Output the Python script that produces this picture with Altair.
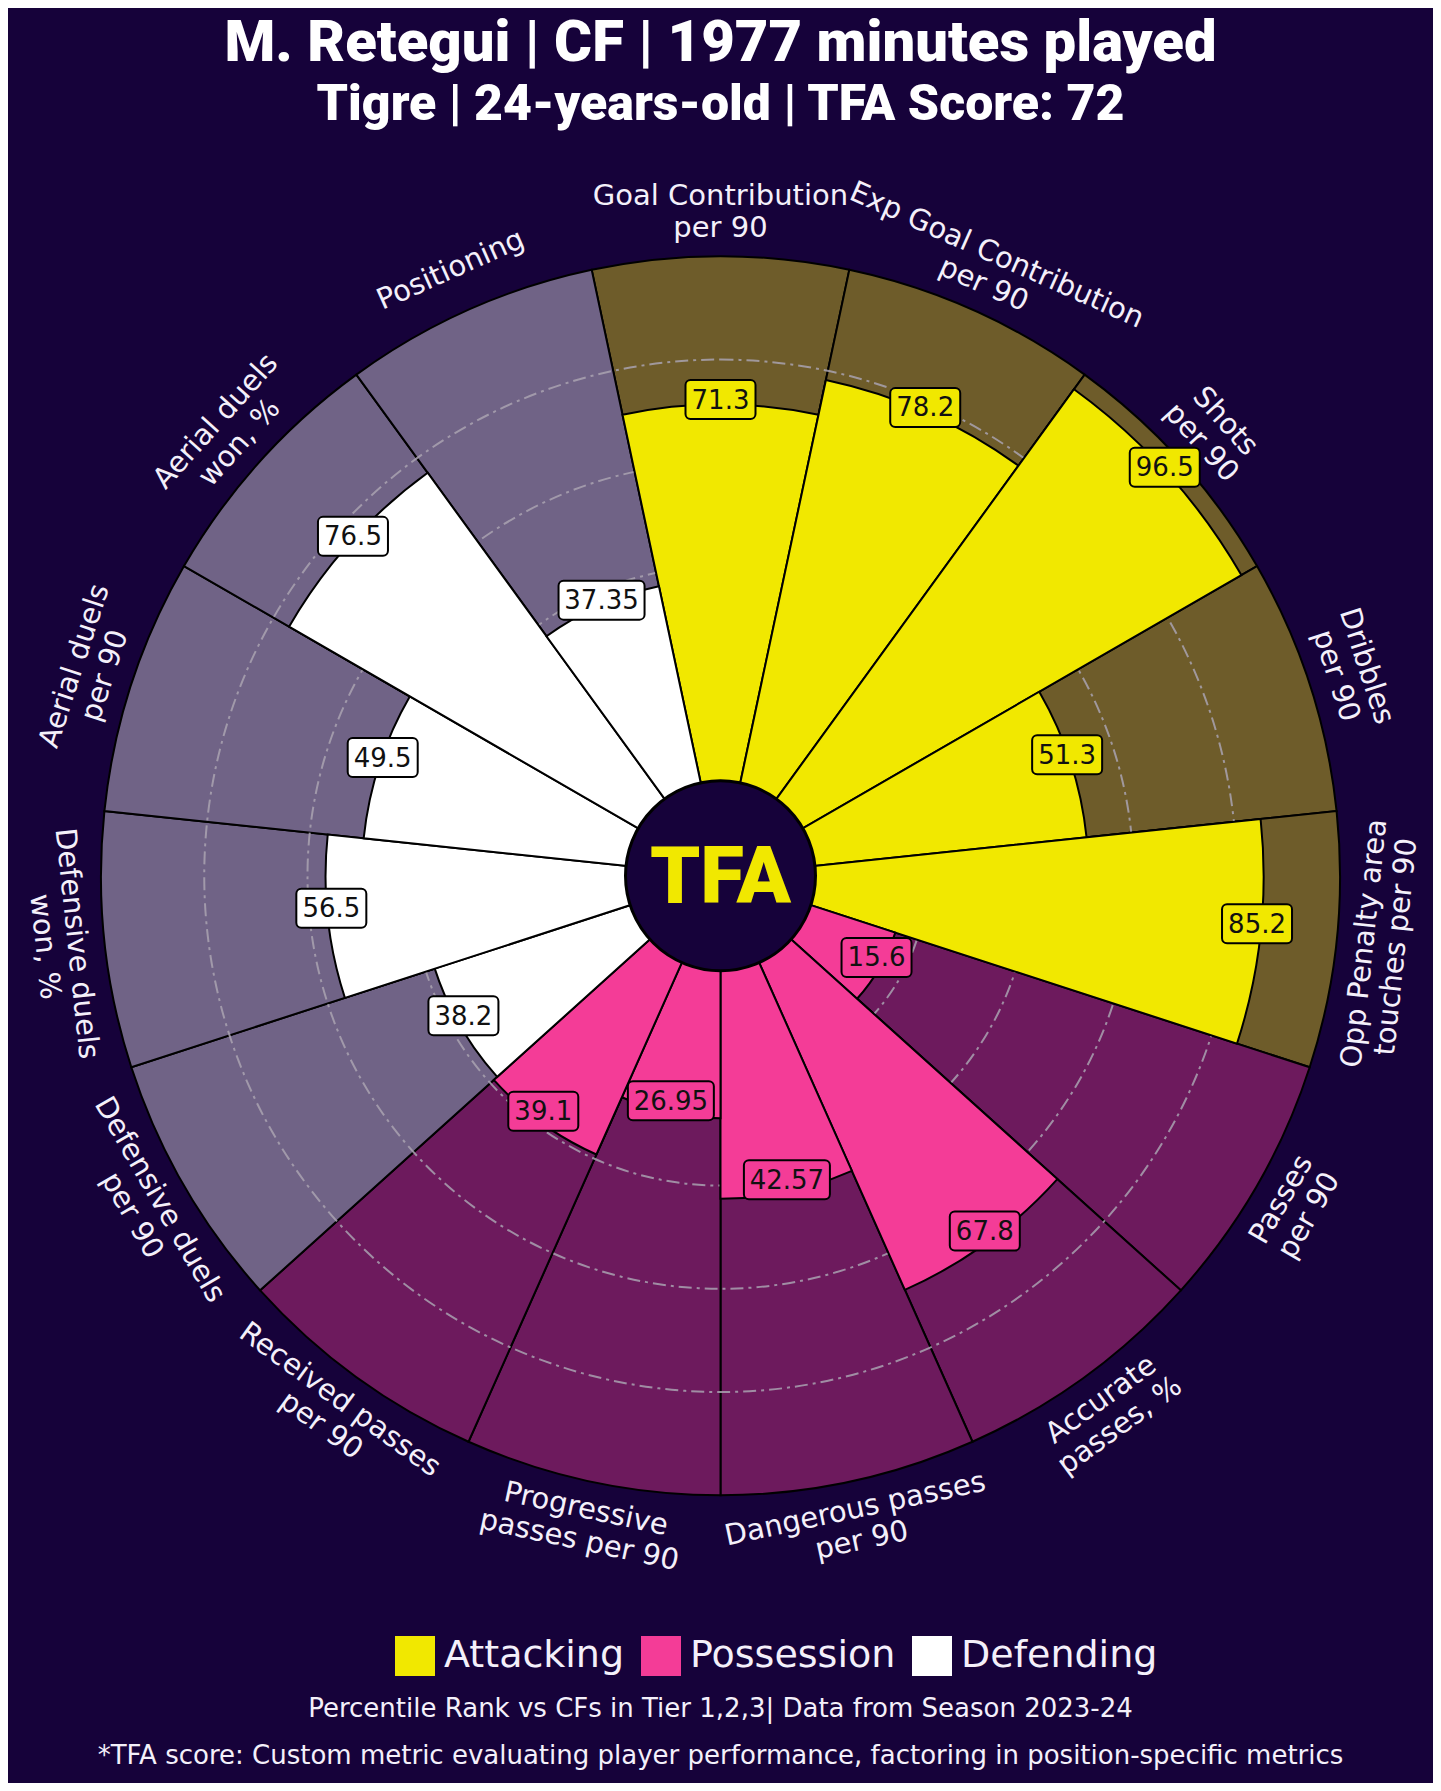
import altair as alt
import pandas as pd

# ---------------- data ----------------
metrics = [
    "Goal Contribution\nper 90",
    "Exp Goal Contribution\nper 90",
    "Shots\nper 90",
    "Dribbles\nper 90",
    "Opp Penalty area\ntouches per 90",
    "Passes\nper 90",
    "Accurate\npasses, %",
    "Dangerous passes\nper 90",
    "Progressive\npasses per 90",
    "Received passes\nper 90",
    "Defensive duels\nper 90",
    "Defensive duels\nwon, %",
    "Aerial duels\nper 90",
    "Aerial duels\nwon, %",
    "Positioning",
]
values = [71.3, 78.2, 96.5, 51.3, 85.2, 15.6, 67.8, 42.57, 26.95, 39.1,
          38.2, 56.5, 49.5, 76.5, 37.35]
value_labels = ["71.3", "78.2", "96.5", "51.3", "85.2", "15.6", "67.8", "42.57",
                "26.95", "39.1", "38.2", "56.5", "49.5", "76.5", "37.35"]
groups = ["Attacking"] * 5 + ["Possession"] * 5 + ["Defending"] * 5
group_names = ["Attacking", "Possession", "Defending"]
grid_levels = [20, 40, 60, 80]

title_text = "M. Retegui | CF | 1977 minutes played"
subtitle_text = "Tigre | 24-years-old | TFA Score: 72"
footer1_text = "Percentile Rank vs CFs in Tier 1,2,3| Data from Season 2023-24"
footer2_text = ("*TFA score: Custom metric evaluating player performance, "
                "factoring in position-specific metrics")

# ---------------- styles ----------------
BG = "#16023a"
BAR_COLS = ["#f1e800", "#f43c97", "#ffffff"]
BACK_COLS = ["#6e5c2a", "#6d1a5d", "#706386"]
GRID = "#a9a2b0"
TXT = "#f4f0fa"
FONT = "DejaVu Sans"
TFONT = "Roboto"
LINE_H = 32

W, H = 1425, 1775
CX, CY = 712.5, 867.8          # pie centre inside the plot area
R = 619.5                      # outer radius (value 100)
UNIT = R / 120.0               # px per value unit (scale domain -20..100)
N = len(metrics)
SLOT = 360.0 / N

df = pd.DataFrame({
    "idx": list(range(N)),
    "metric": metrics,
    "value": values,
    "label": value_labels,
    "group": groups,
})
grid_df = pd.DataFrame({"level": grid_levels})

xscale = alt.Scale(domain=[-CX / UNIT, (W - CX) / UNIT], nice=False, zero=False)
yscale = alt.Scale(domain=[-(H - CY) / UNIT, CY / UNIT], nice=False, zero=False)
rscale = alt.Scale(type="linear", domain=[-20, 100], range=[0, R], zero=False, nice=False)
tscale = alt.Scale(domain=[0, 360], range=[0, 6.283185307179586], zero=False, nice=False)

X0 = alt.X(datum=0, scale=xscale, axis=None)
Y0 = alt.Y(datum=0, scale=yscale, axis=None)

base = alt.Chart(df).transform_calculate(
    tc=f"datum.idx * {SLOT}",
    multi="indexof(datum.metric, '\\n') >= 0",
).transform_calculate(
    t0=f"datum.tc - {SLOT / 2}",
    t1=f"datum.tc + {SLOT / 2}",
    rot="(datum.tc > 90 && datum.tc < 270) ? datum.tc - 180 : datum.tc",
    rad="datum.tc * PI / 180",
    rr="datum.value + 20 - 0.7",
).transform_calculate(
    rot2="(datum.rot + 360) % 360",
    cx="datum.rr * sin(datum.rad)",
    cy=f"datum.rr * cos(datum.rad) + {8.5 / UNIT}",
    hw=f"(length(replace(datum.label, '.', '')) * 16 + 22) / 2 / {UNIT}",
    hh=f"{19.5 / UNIT}",
).transform_calculate(
    bx0="datum.cx - datum.hw",
    bx1="datum.cx + datum.hw",
    by0="datum.cy - datum.hh",
    by1="datum.cy + datum.hh",
)

theta_enc = alt.Theta("t0:Q", scale=tscale, stack=False)

# background wedges (value 100)
back = base.mark_arc(stroke="black", strokeWidth=2).encode(
    x=X0, y=Y0,
    theta=theta_enc, theta2="t1:Q",
    radius=alt.Radius(datum=100, scale=rscale),
    radius2=alt.Radius2(datum=-20),
    fill=alt.Fill("group:N", scale=alt.Scale(domain=group_names, range=BACK_COLS), legend=None),
)

# dash-dot grid circles
grid = alt.Chart(grid_df).mark_arc(
    theta=0, theta2=6.2832, fillOpacity=0, stroke=GRID, strokeWidth=2,
    strokeDash=[13, 5, 3, 5], strokeOpacity=0.85,
).encode(
    x=X0, y=Y0,
    radius=alt.Radius("level:Q", scale=rscale),
    radius2=alt.Radius2(datum=-20),
)

# value bars
bars = base.mark_arc(stroke="black", strokeWidth=2).encode(
    x=X0, y=Y0,
    theta=theta_enc, theta2="t1:Q",
    radius=alt.Radius("value:Q", scale=rscale),
    radius2=alt.Radius2(datum=-20),
    fill=alt.Fill(
        "group:N",
        scale=alt.Scale(domain=group_names, range=BAR_COLS),
        legend=alt.Legend(
            title=None, orient="none", legendX=387, legendY=1628,
            direction="horizontal", symbolType="square", symbolSize=1600,
            symbolStrokeWidth=0, symbolOpacity=1,
            labelFont=FONT, labelFontSize=38, labelFontWeight="normal",
            labelColor=TXT, labelOffset=9, columnPadding=16, padding=0,
            labelLimit=400,
        ),
    ),
)

# centre disc + logo
centre = alt.Chart(pd.DataFrame({"k": [0]})).mark_arc(
    radius=95, theta=0, theta2=6.2832, fill=BG, stroke="black", strokeWidth=3,
).encode(x=X0, y=Y0)

logo = alt.Chart(pd.DataFrame({"t": ["TFA"]})).mark_text(
    font=TFONT, fontSize=80, fontWeight=900, color="#f1e800",
    baseline="middle", align="center", dy=3,
).encode(x=X0, y=Y0, text="t:N")


# metric names around the pizza (two-line blocks centred on the anchor)
def names_layer(is_multi, shift):
    return base.transform_filter(
        f"datum.multi == {'true' if is_multi else 'false'}"
    ).mark_text(
        font=FONT, fontSize=29, color=TXT, lineBreak="\n",
        lineHeight=LINE_H, baseline="middle", align="center", dy=shift,
    ).encode(
        x=X0, y=Y0,
        theta=alt.Theta("tc:Q", scale=tscale, stack=False),
        radius=alt.Radius(datum=108.5, scale=rscale),
        angle=alt.Angle("rot2:Q", scale=None),
        text="metric:N",
    )


names2 = names_layer(True, -LINE_H / 2)
names1 = names_layer(False, 0)

# value boxes
boxes = base.mark_rect(cornerRadius=5, stroke="black", strokeWidth=2).encode(
    x=alt.X("bx0:Q", scale=xscale, axis=None), x2="bx1:Q",
    y=alt.Y("by0:Q", scale=yscale, axis=None), y2="by1:Q",
    fill=alt.Fill("group:N", scale=alt.Scale(domain=group_names, range=BAR_COLS), legend=None),
)
vtext = base.mark_text(
    font=FONT, fontSize=26, color="#111111", baseline="middle", align="center", dy=1,
).encode(
    x=alt.X("cx:Q", scale=xscale, axis=None),
    y=alt.Y("cy:Q", scale=yscale, axis=None),
    text="label:N",
)


def label(s, y, size, weight, font, color="white"):
    return alt.Chart(pd.DataFrame({"t": [s]})).mark_text(
        font=font, fontSize=size, fontWeight=weight, color=color,
        baseline="middle", align="center",
    ).encode(x=alt.value(W / 2), y=alt.value(y), text="t:N")


title = label(title_text, 36, 58, 900, TFONT)
subtitle = label(subtitle_text, 97, 50, 900, TFONT)
foot1 = label(footer1_text, 1701, 26, "normal", FONT, TXT)
foot2 = label(footer2_text, 1748, 26, "normal", FONT, TXT)

chart = alt.layer(
    back, grid, bars, centre, logo, names2, names1, boxes, vtext,
    title, subtitle, foot1, foot2,
).resolve_scale(fill="independent").properties(
    width=W, height=H, background=BG, padding=0, autosize="none",
    usermeta={"embedOptions": {
        "defaultStyle": f"html, body {{ background: {BG} !important; }}"
    }},
).configure_view(stroke="transparent")

chart.save("out.html", embed_options={"renderer": "svg", "actions": False})
